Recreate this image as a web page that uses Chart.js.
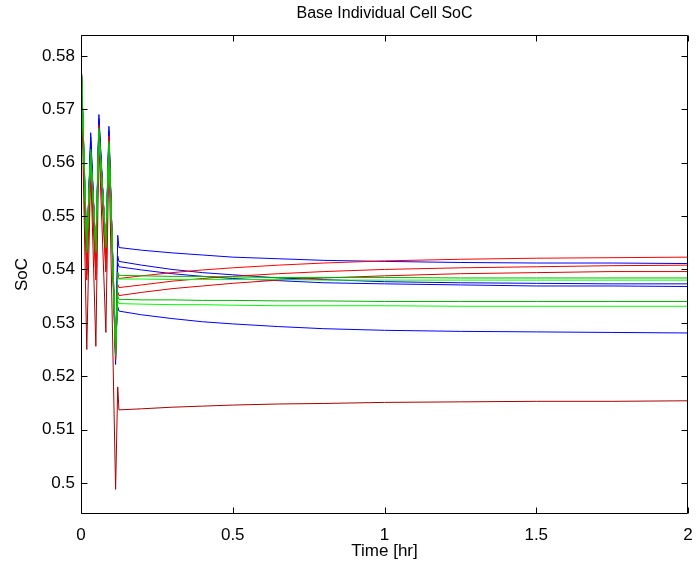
<!DOCTYPE html>
<html>
<head>
<meta charset="utf-8">
<title>Base Individual Cell SoC</title>
<script src="https://cdn.jsdelivr.net/npm/chart.js@4.4.1/dist/chart.umd.min.js"></script>
<style>
  html, body { margin: 0; padding: 0; background: #fff; }
  #wrap { width: 696px; height: 568px; }
</style>
</head>
<body>
<div id="wrap"><canvas id="socChart" width="696" height="568"></canvas></div>
<script>
// ── data ───────────────────────────────────────────────────────────

// time stamps [hr]: start-up oscillation, then the settling part
const TIME = [0, 0.019, 0.032, 0.049, 0.059, 0.082, 0.092, 0.114, 0.121,
              0.125, 0.2, 0.3, 0.4, 0.5, 0.65, 0.8, 1.0, 1.25, 1.5, 1.75, 2.0];

const X_TICKS = [0, 0.5, 1, 1.5, 2];
const Y_TICKS = [0.5, 0.51, 0.52, 0.53, 0.54, 0.55, 0.56, 0.57, 0.58];

// cell SoC, one array per cell
const blue1 = [0.580, 0.5419, 0.5656, 0.5419, 0.5690, 0.5432, 0.5668, 0.5222, 0.5464,
               0.5441, 0.5436, 0.5431, 0.5427, 0.5423, 0.5420, 0.5417, 0.5415, 0.5413, 0.5412, 0.5412, 0.5411];
const blue2 = [0.580, 0.5425, 0.5648, 0.5425, 0.5682, 0.5438, 0.5660, 0.5235, 0.5425,
               0.5415, 0.5408, 0.5400, 0.5394, 0.5390, 0.5384, 0.5381, 0.5377, 0.5375, 0.5374, 0.5373, 0.5373];
const blue3 = [0.580, 0.5430, 0.5640, 0.5430, 0.5675, 0.5443, 0.5652, 0.5245, 0.5412,
               0.5405, 0.5399, 0.5392, 0.5387, 0.5383, 0.5379, 0.5375, 0.5373, 0.5371, 0.5369, 0.5369, 0.5368];
const blue4 = [0.580, 0.5440, 0.5630, 0.5440, 0.5665, 0.5450, 0.5645, 0.5260, 0.5330,
               0.5322, 0.5315, 0.5308, 0.5302, 0.5298, 0.5293, 0.5289, 0.5286, 0.5284, 0.5283, 0.5282, 0.5281];

const red1 = [0.580, 0.5400, 0.5610, 0.5400, 0.5670, 0.5410, 0.5650, 0.5250, 0.5392,
              0.5383, 0.5388, 0.5394, 0.5399, 0.5403, 0.5408, 0.5412, 0.5416, 0.5419, 0.5421, 0.5422, 0.5423];
const red2 = [0.580, 0.5390, 0.5600, 0.5390, 0.5660, 0.5400, 0.5640, 0.5240, 0.5372,
              0.5366, 0.5371, 0.5378, 0.5383, 0.5387, 0.5392, 0.5396, 0.5400, 0.5403, 0.5405, 0.5407, 0.5408];
const red3 = [0.580, 0.5380, 0.5590, 0.5380, 0.5650, 0.5395, 0.5630, 0.5230, 0.5358,
              0.5351, 0.5357, 0.5364, 0.5369, 0.5374, 0.5380, 0.5384, 0.5388, 0.5392, 0.5394, 0.5396, 0.5396];
const darkRed = [0.580, 0.5250, 0.5590, 0.5256, 0.5640, 0.5282, 0.5620, 0.4988, 0.5180,
                 0.5137, 0.5139, 0.5142, 0.5144, 0.5146, 0.5148, 0.5149, 0.5151, 0.5152, 0.5153, 0.5153, 0.5154];

const green1 = [0.580, 0.5431, 0.5625, 0.5431, 0.5665, 0.5440, 0.5640, 0.5238, 0.5395,
                0.5389, 0.5388, 0.5387, 0.5387, 0.5386, 0.5385, 0.5385, 0.5385, 0.5384, 0.5384, 0.5384, 0.5384];
const green2 = [0.580, 0.5436, 0.5620, 0.5436, 0.5660, 0.5445, 0.5635, 0.5245, 0.5386,
                0.5382, 0.5382, 0.5381, 0.5381, 0.5381, 0.5381, 0.5380, 0.5380, 0.5380, 0.5380, 0.5380, 0.5380];
const green3 = [0.580, 0.5440, 0.5615, 0.5440, 0.5655, 0.5448, 0.5632, 0.5255, 0.5350,
                0.5344, 0.5343, 0.5343, 0.5342, 0.5342, 0.5341, 0.5341, 0.5340, 0.5340, 0.5340, 0.5340, 0.5340];
const green4 = [0.580, 0.5445, 0.5610, 0.5445, 0.5650, 0.5452, 0.5628, 0.5262, 0.5342,
                0.5336, 0.5335, 0.5334, 0.5334, 0.5333, 0.5332, 0.5332, 0.5332, 0.5331, 0.5331, 0.5331, 0.5331];

// ── chart ──────────────────────────────────────────────────────────

const FONT = '"Liberation Sans", Arial, Helvetica, sans-serif';
const TITLE = 'Base Individual Cell SoC';
const TICK_LEN = 6;

// Chart.js paints dataset 0 last (on top), so greens first, blues last
const series = [
  { v: green1,  c: '#00b400' },
  { v: green2,  c: '#00ff00' },
  { v: green3,  c: '#00b400' },
  { v: green4,  c: '#00ff00' },
  { v: red1,    c: '#ff0000' },
  { v: red2,    c: '#ee0000' },
  { v: red3,    c: '#dd0000' },
  { v: darkRed, c: '#a80000' },
  { v: blue1,   c: '#0000ff' },
  { v: blue2,   c: '#0000dd' },
  { v: blue3,   c: '#0000ff' },
  { v: blue4,   c: '#0000ff' },
];

function fmtTick(v) {
  return String(parseFloat(Number(v).toFixed(2)));
}

// MATLAB-like box with inward ticks on all four sides + title over the axes
const boxTicks = {
  id: 'boxTicks',
  afterDatasetsDraw(chart) {
    const { ctx, chartArea: a, scales: { x, y } } = chart;
    const L = Math.round(a.left) + 0.5, R = Math.round(a.right) - 0.5;
    const T = Math.round(a.top) + 0.5,  B = Math.round(a.bottom) - 0.5;
    ctx.save();
    ctx.strokeStyle = '#000';
    ctx.lineWidth = 1;
    ctx.beginPath();
    X_TICKS.forEach(v => {
      const px = Math.round(x.getPixelForValue(v)) + 0.5;
      ctx.moveTo(px, B); ctx.lineTo(px, B - TICK_LEN);
      ctx.moveTo(px, T); ctx.lineTo(px, T + TICK_LEN);
    });
    Y_TICKS.forEach(v => {
      const py = Math.round(y.getPixelForValue(v)) + 0.5;
      ctx.moveTo(L, py); ctx.lineTo(L + TICK_LEN, py);
      ctx.moveTo(R, py); ctx.lineTo(R - TICK_LEN, py);
    });
    ctx.rect(L, T, R - L, B - T);
    ctx.stroke();

    ctx.fillStyle = '#000';
    ctx.font = '16px ' + FONT;
    ctx.textAlign = 'center';
    ctx.textBaseline = 'middle';
    ctx.fillText(TITLE, (a.left + a.right) / 2, 14);
    ctx.restore();
  }
};

new Chart(document.getElementById('socChart'), {
  type: 'line',
  data: {
    datasets: series.map(s => ({
      data: TIME.map((t, i) => ({ x: t, y: s.v[i] })),
      borderColor: s.c,
      borderWidth: 1,
      pointRadius: 0,
      tension: 0,
      fill: false,
    })),
  },
  options: {
    responsive: false,
    animation: false,
    events: [],
    layout: { padding: { left: 0, right: 8, top: 35, bottom: 0 } },
    plugins: {
      legend: { display: false },
      tooltip: { enabled: false },
      title: { display: false },
    },
    scales: {
      x: {
        type: 'linear',
        min: 0, max: 2,
        afterFit: s => { s.height = 54; s.paddingLeft = 0; s.paddingRight = 0; },
        afterBuildTicks: s => { s.ticks = X_TICKS.map(v => ({ value: v })); },
        grid: { display: false, drawTicks: false },
        border: { display: false },
        ticks: { color: '#000', padding: 11, maxRotation: 0, font: { family: FONT, size: 17 }, callback: fmtTick },
        title: { display: true, text: 'Time [hr]', color: '#000', font: { family: FONT, size: 17 }, padding: { top: 0, bottom: 6 } },
      },
      y: {
        type: 'linear',
        min: 0.4942, max: 0.5839,
        afterFit: s => { s.width = 81; s.paddingTop = 0; s.paddingBottom = 0; },
        afterBuildTicks: s => { s.ticks = Y_TICKS.map(v => ({ value: v })); },
        grid: { display: false, drawTicks: false },
        border: { display: false },
        ticks: { color: '#000', padding: 6, font: { family: FONT, size: 17 }, callback: fmtTick },
        title: { display: true, text: 'SoC', color: '#000', font: { family: FONT, size: 17 }, padding: { top: 12, bottom: 0 } },
      },
    },
  },
  plugins: [boxTicks],
});
</script>
</body>
</html>
